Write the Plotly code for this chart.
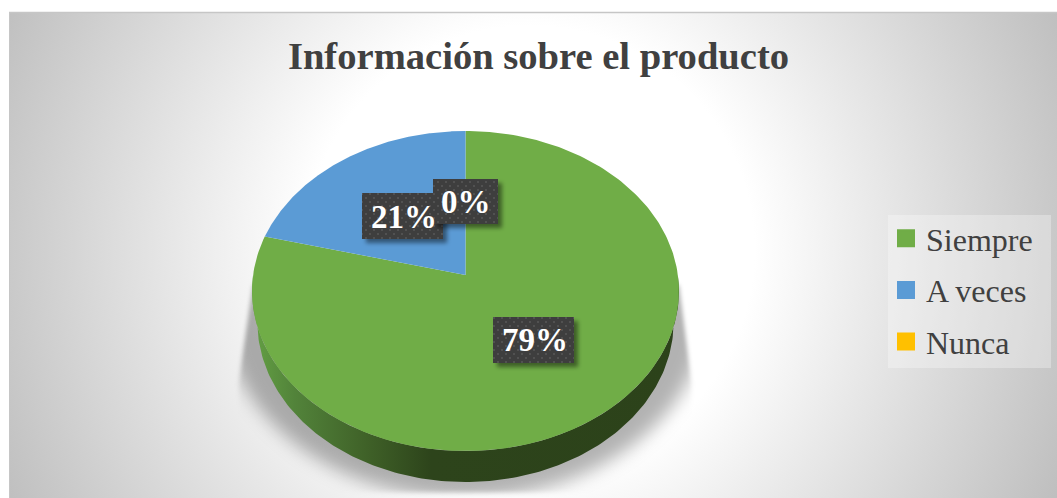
import base64
import numpy as np
import plotly.graph_objects as go

# Data
categories = ["Siempre", "A veces", "Nunca"]
values = [79, 21, 0]
colors = ["#70AD47", "#5B9BD5", "#FFC000"]
title_text = "Información sobre el producto"

# Perspective disc geometry (page pixels)
CX, CY, RX, RY_K, PERSP, DEPTH, BOTTOM_SCALE = 465.5, 275.0, 212.4, 158.4, 0.1, 31.0, 0.975
W, H = 1057, 498


def project(theta, dy=0.0, scale=1.0):
    """theta measured clockwise from 12 o'clock on the tilted disc."""
    u, v = np.sin(theta), np.cos(theta)
    d = 1 + PERSP * v
    return CX + scale * RX * u / d, CY - RY_K * v / d + dy


def bg_svg():
    return f'''<svg xmlns="http://www.w3.org/2000/svg" width="{W}" height="{H}" viewBox="0 0 {W} {H}">
<defs>
<radialGradient id="g" gradientUnits="userSpaceOnUse" cx="530" cy="250" r="590">
<stop offset="0.38" stop-color="#ffffff"/><stop offset="1" stop-color="#bdbdbd"/></radialGradient>
<filter id="b" x="-20%" y="-20%" width="140%" height="140%"><feGaussianBlur stdDeviation="9"/></filter>
<filter id="e" x="-10%" y="-10%" width="120%" height="120%"><feGaussianBlur stdDeviation="2"/></filter>
<mask id="m" maskUnits="userSpaceOnUse" x="200" y="260" width="530" height="238">
<path d="M253 285L238 385V493H692V385L679 285Z" fill="#fff" filter="url(#e)"/></mask>
</defs>
<rect x="9" y="12" width="1048" height="486" fill="url(#g)"/>
<path d="M9 12.5H1057" stroke="#c6c6c6" stroke-width="1.5"/>
<path d="M9.5 12V498" stroke="#c6c6c6" stroke-width="1"/>
<g mask="url(#m)"><ellipse cx="465" cy="312" rx="240" ry="186" fill="#000" fill-opacity="0.30" filter="url(#b)"/></g>
<rect x="888" y="215" width="163" height="153" fill="#fff" fill-opacity="0.3"/>
</svg>'''


def box_svg():
    boxes = [(362, 193, 81, 46), (433, 179, 65, 45), (493, 317, 81, 46)]
    rects = "".join(
        f'<rect x="{x+4}" y="{y+4}" width="{w}" height="{h}" fill="#000" fill-opacity="0.45" filter="url(#s)"/>'
        f'<rect x="{x}" y="{y}" width="{w}" height="{h}" fill="#3e3e3e"/>'
        f'<rect x="{x}" y="{y}" width="{w}" height="{h}" fill="url(#p)"/>'
        for x, y, w, h in boxes
    )
    return f'''<svg xmlns="http://www.w3.org/2000/svg" width="{W}" height="{H}" viewBox="0 0 {W} {H}">
<defs>
<filter id="s" x="-20%" y="-20%" width="140%" height="140%"><feGaussianBlur stdDeviation="2"/></filter>
<pattern id="p" patternUnits="userSpaceOnUse" width="8" height="8">
<circle cx="2" cy="2" r="0.9" fill="#fff" fill-opacity="0.14"/><circle cx="6" cy="6" r="0.9" fill="#fff" fill-opacity="0.14"/></pattern>
</defs>{rects}</svg>'''


def uri(svg):
    return "data:image/svg+xml;base64," + base64.b64encode(svg.encode()).decode()


fig = go.Figure()

# Side wall: the visible lower half of the rim, extruded downward
th = np.linspace(np.pi / 2, 3 * np.pi / 2, 181)
x_top, y_top = project(th)
x_bot, y_bot = project(th[::-1], DEPTH, BOTTOM_SCALE)
fig.add_trace(go.Scatter(
    x=np.r_[x_top, x_bot], y=np.r_[y_top, y_bot], mode="lines", fill="toself",
    line=dict(width=0), showlegend=False, hoverinfo="skip",
    fillgradient=dict(type="horizontal", start=252, stop=679,
                      colorscale=[[0, "#64a044"], [0.1, "#52833a"], [0.28, "#3e5f27"],
                                  [0.42, "#2d441b"], [1, "#2c421a"]]),
))

# Top surface slices, clockwise from 12 o'clock, computed from the values
total = sum(values)
start = 0.0
for name, val, col in zip(categories, values, colors):
    sweep = 2 * np.pi * val / total
    if val > 0:
        t = np.linspace(start, start + sweep, 240)
        px, py = project(t)
        fig.add_trace(go.Scatter(
            x=np.r_[CX, px, CX], y=np.r_[CY, py, CY], mode="lines", fill="toself",
            fillcolor=col, line=dict(width=0), name=name, showlegend=False,
            hovertext=f"{name}: {val}%", hoverinfo="text",
        ))
    start += sweep

# Legend entries
for i, (name, col) in enumerate(zip(categories, colors)):
    fig.add_trace(go.Scatter(
        x=[None], y=[None], mode="markers", name=name, legendgroup=name,
        marker=dict(symbol="square", size=16, color=col, line=dict(width=2, color=col)),
    ))

# Percent labels
label_xy = [(534.5, 340), (404, 216.5), (465.5, 201.5)]
annotations = [
    dict(x=x, y=y, xref="x", yref="y", text=f"<b>{v}%</b>", showarrow=False,
         font=dict(family="Liberation Serif", size=33, color="#ffffff"))
    for (x, y), v in zip(label_xy, values)
]

fig.update_layout(
    width=W, height=H, autosize=False,
    margin=dict(l=0, r=0, t=0, b=0),
    paper_bgcolor="#ffffff", plot_bgcolor="rgba(0,0,0,0)",
    xaxis=dict(range=[0, W], visible=False, fixedrange=True),
    yaxis=dict(range=[H, 0], visible=False, fixedrange=True),
    title=dict(text=f"<b>{title_text}</b>", x=538.5 / W, xanchor="center",
               y=1 - 55.5 / H, yanchor="middle",
               font=dict(family="Liberation Serif", size=38.6, color="#404040")),
    legend=dict(x=886 / W, y=1 - 211 / H, xanchor="left", yanchor="top",
                bgcolor="rgba(255,255,255,0)", tracegroupgap=7,
                itemwidth=30, itemclick=False, itemdoubleclick=False,
                font=dict(family="Liberation Serif", size=32, color="#404040")),
    images=[
        dict(source=uri(bg_svg()), xref="paper", yref="paper", x=0, y=1, sizex=1, sizey=1,
             sizing="stretch", xanchor="left", yanchor="top", layer="below"),
        dict(source=uri(box_svg()), xref="paper", yref="paper", x=0, y=1, sizex=1, sizey=1,
             sizing="stretch", xanchor="left", yanchor="top", layer="above"),
    ],
    annotations=annotations,
)

fig.write_html("out.html", config={"displayModeBar": False},
               post_script="document.body.style.margin='0';document.documentElement.style.overflow='hidden';window.dispatchEvent(new Event('resize'));")
